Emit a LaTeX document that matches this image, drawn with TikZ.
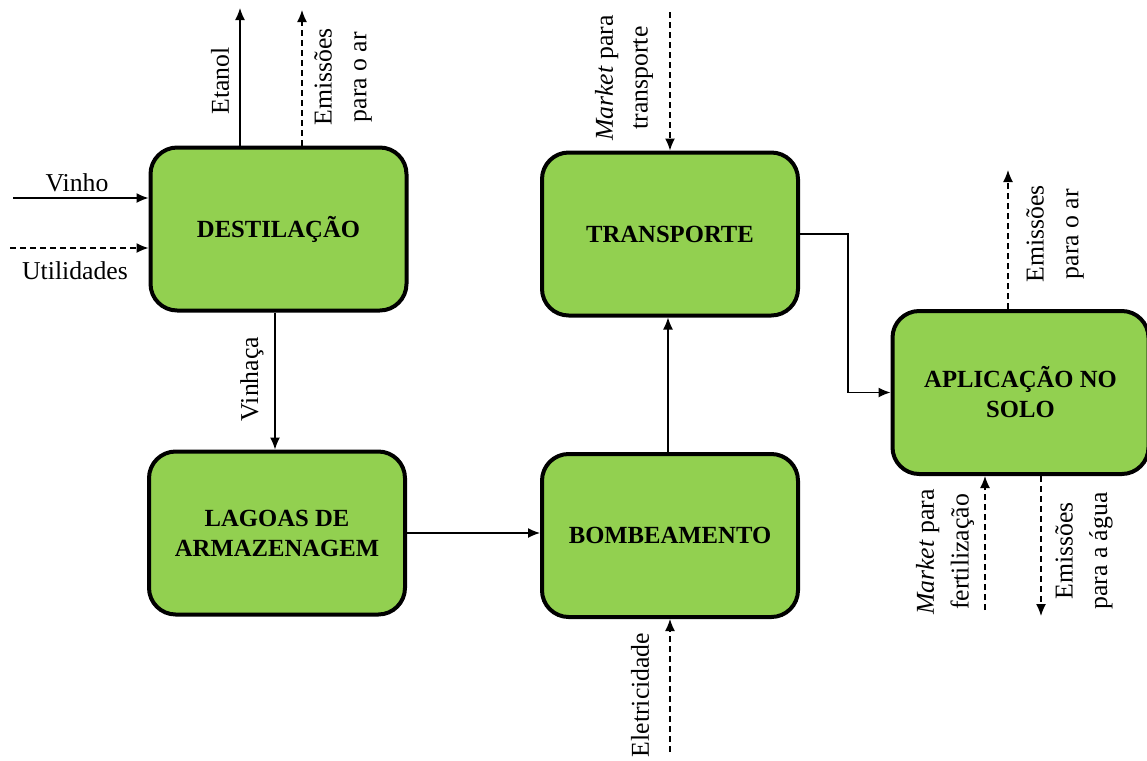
\documentclass[tikz,border=0pt]{standalone}
\usepackage{fontspec}
\setmainfont{Liberation Serif}
\usetikzlibrary{arrows.meta,calc}
\definecolor{boxgreen}{HTML}{92D050}
\begin{document}
\begin{tikzpicture}[x=0.75pt,y=-0.75pt,
  box/.style={draw=black,line width=3pt,fill=boxgreen,rounded corners=20pt,
    minimum width=192pt,minimum height=122.25pt,align=center,inner sep=0pt,
    font=\fontsize{18.5}{22.5}\selectfont\bfseries},
  lbl/.style={font=\fontsize{19.3}{26}\selectfont,inner sep=0pt,align=center},
  rlbl/.style={lbl,rotate=90},
  flow/.style={line width=1pt,-{Latex[length=9pt,width=7.5pt]}},
  dflow/.style={flow,dash pattern=on 4.5pt off 3pt}]
\useasboundingbox (0,0) rectangle (1147,761);

% boxes
\node[box] (dest) at (278.5,229) {DESTILAÇÃO};
\node[box] (lag)  at (277,533)   {LAGOAS DE\\ARMAZENAGEM};
\node[box] (tr)   at (670,234)   {TRANSPORTE};
\node[box] (bomb) at (670,535.5) {BOMBEAMENTO};
\node[box] (ap)   at (1020.5,392.5) {APLICAÇÃO NO\\SOLO};

% Destilacao outputs
\coordinate (etT) at (240,8);
\draw[flow] (dest.north -| etT) -- (etT);
\node[rlbl] (etL) at (220,81) {Etanol};
\coordinate (emT) at (302,10);
\draw[dflow] (dest.north -| emT) -- (emT);
\node[rlbl] (emL) at (343,77) {Emissões\\para o ar};

% Destilacao inputs
\coordinate (viS) at (13,198);
\draw[flow] (viS) -- (viS -| dest.west);
\node[lbl] (viL) at (77,183) {Vinho};
\coordinate (utS) at (10,248);
\draw[dflow] (utS) -- (utS -| dest.west);
\node[lbl] (utL) at (75,271) {Utilidades};

% Vinhaca
\coordinate (vx) at (275,0);
\draw[flow] (dest.south -| vx) -- (lag.north -| vx);
\node[rlbl] (vnL) at (252,379) {Vinhaça};

% Lagoas -> Bombeamento -> Transporte
\draw[flow] (lag.east) -- (lag.east -| bomb.west);
\coordinate (bx) at (668,0);
\draw[flow] (bomb.north -| bx) -- (tr.south -| bx);

% Eletricidade
\coordinate (elS) at (670,752);
\draw[dflow] (elS) -- (bomb.south -| elS);
\node[rlbl] (elL) at (640,695) {Eletricidade};

% Market para transporte
\coordinate (mtS) at (670,12);
\draw[dflow] (mtS) -- (tr.north -| mtS);
\node[rlbl] (mtL) at (624,78) {\textit{Market} para\\transporte};

% Transporte -> Aplicacao
\coordinate (bend) at (848,0);
\draw[flow] (tr.east) -- (tr.east -| bend) |- (ap.west);

% Aplicacao outputs/inputs
\coordinate (erT) at (1008,170);
\draw[dflow] (ap.north -| erT) -- (erT);
\node[rlbl] (erL) at (1055,234) {Emissões\\para o ar};

\coordinate (mfS) at (985,610);
\draw[dflow] (mfS) -- (ap.south -| mfS);
\node[rlbl] (mfL) at (945,552) {\textit{Market} para\\fertilização};

\coordinate (eaT) at (1041,616);
\draw[dflow] (ap.south -| eaT) -- (eaT);
\node[rlbl] (eaL) at (1084,551) {Emissões\\para a água};
\end{tikzpicture}
\end{document}
